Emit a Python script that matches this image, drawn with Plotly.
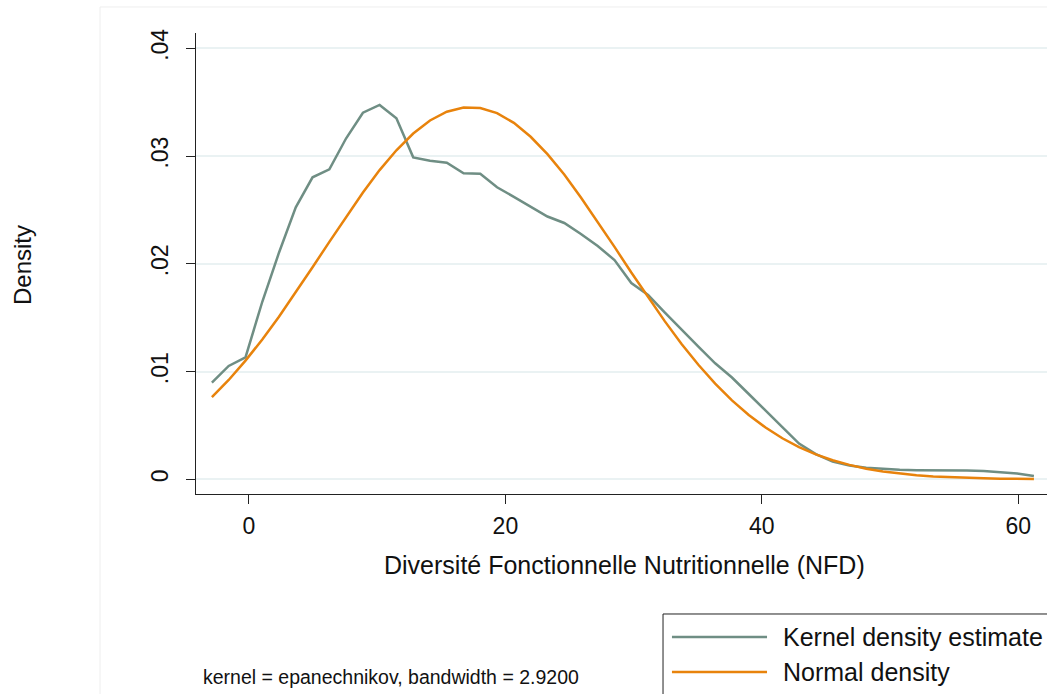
import plotly.graph_objects as go

# evaluation grid (50 points, as in kdensity)
nfd = [-2.89, -1.58, -0.27, 1.04, 2.34, 3.65, 4.96, 6.27, 7.58, 8.89,
       10.19, 11.50, 12.81, 14.12, 15.43, 16.74, 18.04, 19.35, 20.66, 21.97,
       23.28, 24.59, 25.89, 27.20, 28.51, 29.82, 31.13, 32.44, 33.74, 35.05,
       36.36, 37.67, 38.98, 40.29, 41.60, 42.90, 44.21, 45.52, 46.83, 48.14,
       49.45, 50.75, 52.06, 53.37, 54.68, 55.99, 57.30, 58.60, 59.91, 61.22]

kde_density = [0.00897, 0.01052, 0.01132, 0.01648, 0.02103, 0.02524, 0.02803, 0.02877, 0.03165, 0.03402,
               0.03474, 0.03350, 0.02988, 0.02957, 0.02938, 0.02840, 0.02835, 0.02710, 0.02622, 0.02532,
               0.02439, 0.02379, 0.02277, 0.02165, 0.02035, 0.01822, 0.01710, 0.01548, 0.01386, 0.01232,
               0.01077, 0.00945, 0.00792, 0.00634, 0.00485, 0.00332, 0.00235, 0.00165, 0.00128, 0.00107,
               0.00096, 0.00088, 0.00084, 0.00084, 0.00084, 0.00082, 0.00077, 0.00068, 0.00054, 0.00031]

normal_density = [0.00763, 0.00922, 0.01102, 0.01298, 0.01509, 0.01736, 0.01968, 0.02204, 0.02438, 0.02661,
                  0.02870, 0.03054, 0.03209, 0.03330, 0.03412, 0.03451, 0.03446, 0.03398, 0.03308, 0.03179,
                  0.03018, 0.02829, 0.02616, 0.02390, 0.02157, 0.01919, 0.01688, 0.01466, 0.01256, 0.01063,
                  0.00889, 0.00733, 0.00597, 0.00481, 0.00381, 0.00299, 0.00231, 0.00177, 0.00134, 0.00099,
                  0.00073, 0.00053, 0.00038, 0.00027, 0.00019, 0.00013, 0.00009, 0.00006, 0.00004, 0.00003]

x_ticks = [0, 20, 40, 60]
y_ticks = [0, 0.01, 0.02, 0.03, 0.04]
y_ticktext = ["0", ".01", ".02", ".03", ".04"]

KDE_COLOR = "#6F8E84"
NORMAL_COLOR = "#E8830C"
FONT = "Liberation Sans, Arial, sans-serif"

fig = go.Figure()

fig.add_trace(go.Scatter(x=nfd, y=kde_density, mode="lines", name="Kernel density estimate",
                         line=dict(color=KDE_COLOR, width=2.5)))
fig.add_trace(go.Scatter(x=nfd, y=normal_density, mode="lines", name="Normal density",
                         line=dict(color=NORMAL_COLOR, width=2.5)))

fig.update_xaxes(
    range=[-4.13, 62.24], tickvals=x_ticks, ticks="outside", ticklen=9, tickcolor="#222",
    showline=True, linecolor="#222", linewidth=1, showgrid=False, zeroline=False,
    tickfont=dict(size=23, color="#111"), ticklabelstandoff=2,
)
fig.update_yaxes(
    range=[-0.00136, 0.04142], tickvals=y_ticks, ticktext=y_ticktext, tickangle=-90,
    ticks="outside", ticklen=9, tickcolor="#222", showline=True, linecolor="#222", linewidth=1,
    showgrid=True, gridcolor="#EAF2F3", gridwidth=2, zeroline=False,
    tickfont=dict(size=23, color="#111"), ticklabelstandoff=9,
)

# faint outer graph-region frame, legend box and legend keys
shapes = [
    dict(type="rect", xref="paper", yref="paper", x0=-0.1128, x1=1.2, y0=-0.7, y1=1.0564,
         line=dict(color="#EEEEEE", width=1), layer="below"),
    dict(type="rect", xref="paper", yref="paper", x0=0.5488, x1=1.2, y0=-0.7, y1=-0.2603,
         line=dict(color="#222", width=1)),
    dict(type="line", xref="paper", yref="paper", x0=0.5593, x1=0.671, y0=-0.3102, y1=-0.3102,
         line=dict(color=KDE_COLOR, width=2.5)),
    dict(type="line", xref="paper", yref="paper", x0=0.5593, x1=0.671, y0=-0.3861, y1=-0.3861,
         line=dict(color=NORMAL_COLOR, width=2.5)),
]

annotations = [
    dict(text="Diversité Fonctionnelle Nutritionnelle (NFD)", xref="paper", yref="paper",
         x=0.5041, y=-0.154, xanchor="center", yanchor="middle", showarrow=False,
         font=dict(size=25, color="#111")),
    dict(text="Density", xref="paper", yref="paper", x=-0.2045, y=0.4967, textangle=-90,
         xanchor="center", yanchor="middle", showarrow=False, font=dict(size=24, color="#111")),
    dict(text="Kernel density estimate", xref="paper", yref="paper", x=0.6874, y=-0.3102,
         xanchor="left", yanchor="middle", showarrow=False, font=dict(size=25, color="#111")),
    dict(text="Normal density", xref="paper", yref="paper", x=0.6874, y=-0.3861,
         xanchor="left", yanchor="middle", showarrow=False, font=dict(size=25, color="#111")),
    dict(text="kernel = epanechnikov, bandwidth = 2.9200", xref="paper", yref="paper",
         x=0.00588, y=-0.397, xanchor="left", yanchor="middle", showarrow=False,
         font=dict(size=19.5, color="#111")),
]

fig.update_layout(
    width=1047, height=694,
    margin=dict(l=196, r=0, t=33, b=200),
    paper_bgcolor="white", plot_bgcolor="white",
    font=dict(family=FONT, color="#111"),
    showlegend=False,
    shapes=shapes,
    annotations=annotations,
)

# drop the page's default body margin so the figure fills the window exactly
fig.write_html("out.html",
               config={"displayModeBar": False},
               post_script="document.body.style.margin='0';document.body.style.overflow='hidden';")
